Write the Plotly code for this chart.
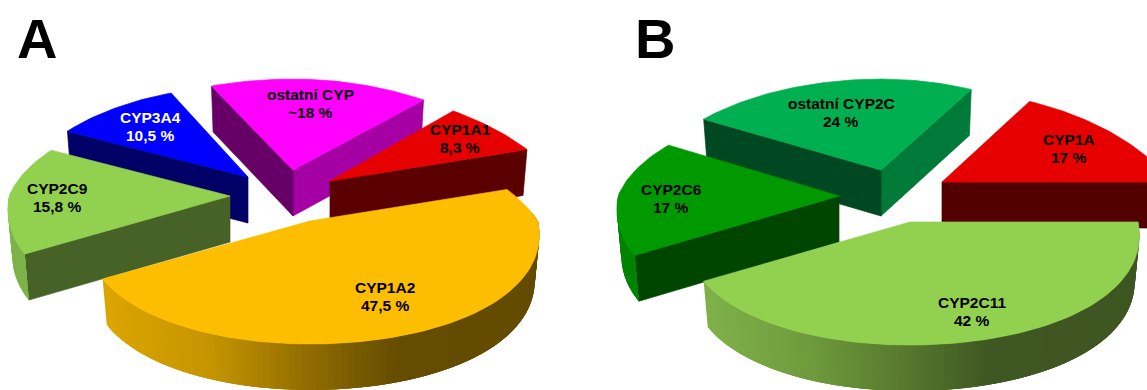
import numpy as np
import plotly.graph_objects as go

# Shares of the P450 isoforms in each pie (per cent)
labels_a = ["CYP1A2", "CYP1A1", "ostatní CYP", "CYP3A4", "CYP2C9"]
values_a = [47.5, 8.3, 18.0, 10.5, 15.8]
value_text_a = ["47,5 %", "8,3 %", "~18 %", "10,5 %", "15,8 %"]

labels_b = ["CYP2C11", "CYP1A", "ostatní CYP2C", "CYP2C6"]
values_b = [42, 17, 24, 17]
value_text_b = ["42 %", "17 %", "24 %", "17 %"]

# Styling per slice: top face, wall on the clockwise edge, wall on the
# counter-clockwise edge, rim gradient stops (offset from the hub in px, colour)
YELLOW_RIM = [(-210, "#DCA600"), (-100, "#C59400"), (30, "#806000"), (90, "#644C00"), (300, "#624B00")]
LIME_RIM = [(-210, "#7FB34A"), (-100, "#6F9A3D"), (-10, "#587A2E"), (80, "#3F5723"), (300, "#3E5522")]
OLIVE_RIM = [(-300, "#7DB348"), (0, "#7DB348")]
STYLE_A = [
    dict(top="#FDBD00", cw="#644C00", ccw="#644C00", rim=YELLOW_RIM),
    dict(top="#E60000", cw="#5A0000", ccw="#5A0000", rim=[(-300, "#5A0000"), (300, "#5A0000")]),
    dict(top="#FF00FF", cw="#A400A4", ccw="#660066", rim=[(-300, "#A400A4"), (300, "#A400A4")]),
    dict(top="#0000FF", cw="#000066", ccw="#000066", rim=[(-300, "#000066"), (300, "#000066")]),
    dict(top="#92D050", cw="#466226", ccw="#466226", rim=OLIVE_RIM),
]
STYLE_B = [
    dict(top="#92D050", cw="#3E5522", ccw="#3E5522", rim=LIME_RIM),
    dict(top="#E60000", cw="#520000", ccw="#520000", rim=[(-300, "#520000"), (300, "#520000")]),
    dict(top="#00B050", cw="#007A38", ccw="#004822", rim=[(-300, "#007A38"), (300, "#007A38")]),
    dict(top="#009900", cw="#004600", ccw="#004600", rim=[(-300, "#008400"), (300, "#008400")]),
]

# Pull-out hub of every slice, in page pixels, and its horizontal stretch
HUBS_A = [(310, 221), (330, 181), (293, 170), (248, 177), (230, 196)]
HUBS_B = [(910, 222), (942, 182), (881, 170), (839, 196)]
STRETCH_A = [1.0, 1.0, 1.06, 1.0, 0.99]
STRETCH_B = [1.0, 1.0, 1.03, 0.99]

# Label anchors (name line; the value line sits below it)
LABEL_POS_A = [(385, 287), (460, 129), (310, 94), (150, 117), (57, 188)]
LABEL_POS_B = [(972, 302), (1069, 139), (841, 103), (671, 189)]
LABEL_COLOR_A = ["#000000", "#000000", "#000000", "#FFFFFF", "#000000"]
LABEL_COLOR_B = ["#000000"] * 4

# Projection of the tilted disc: the near half is drawn larger than the far half
RX_LEFT, RX_RIGHT = 223.0, 228.0
RY_FAR, RY_NEAR = 100.0, 123.0
K_FAR_LEFT, K_FAR_RIGHT, K_NEAR = 0.175, 0.29, 0.11
K_Y_FAR = 0.10
DEPTH = 46.0
LOWER_FACE_SCALE = 0.98
START_A, START_B = 19.0, 0.0
DRAW_ORDER_A = [2, 1, 3, 4, 0]
DRAW_ORDER_B = [2, 1, 3, 0]

fig = go.Figure()


def hex_rgb(c):
    return np.array([int(c[i:i + 2], 16) for i in (1, 3, 5)], dtype=float)


def gradient(stops, offset):
    xs = [s[0] for s in stops]
    rgb = np.array([hex_rgb(s[1]) for s in stops])
    return "rgb({:.0f},{:.0f},{:.0f})".format(*[np.interp(offset, xs, rgb[:, i]) for i in range(3)])


def project(hub, t_deg, stretch):
    t = np.radians(t_deg)
    c, s = np.cos(t), np.sin(t)
    rx = RX_RIGHT if c > 0 else RX_LEFT
    if s >= 0:
        kx = K_FAR_RIGHT if c > 0 else K_FAR_LEFT
        dy = RY_FAR * s / (1.0 + K_Y_FAR * s)
    else:
        kx = K_NEAR
        dy = RY_NEAR * s
    return hub[0] + stretch * rx * c / (1.0 + kx * s), hub[1] - dy


def polygon(xs, ys, color, width=0.7):
    fig.add_trace(go.Scatter(x=xs, y=ys, mode="lines", fill="toself", fillcolor=color,
                             line=dict(color=color, width=width), hoverinfo="skip", showlegend=False))


def lower_x(hub, x):
    # The bottom face of the slab sits further from the viewer
    return hub[0] + (x - hub[0]) * LOWER_FACE_SCALE


def wall(hub, edge, color):
    polygon([hub[0], edge[0], lower_x(hub, edge[0]), hub[0], hub[0]],
            [hub[1], edge[1], edge[1] + DEPTH, hub[1] + DEPTH, hub[1]], color)


def wall_visible(hub, edge, mid):
    # The wall faces the viewer when the slice's arc lies above the edge line
    dx = edge[0] - hub[0]
    if abs(dx) < 1e-6:
        return False
    return hub[1] + (edge[1] - hub[1]) * (mid[0] - hub[0]) / dx > mid[1]


def draw_slice(hub, t_lo, t_hi, style, stretch):
    ts = np.arange(t_lo, t_hi, 1.5).tolist() + [t_hi]
    arc = [project(hub, t, stretch) for t in ts]
    mid = project(hub, (t_lo + t_hi) / 2, stretch)
    if wall_visible(hub, arc[0], mid):
        wall(hub, arc[0], style["cw"])
    if wall_visible(hub, arc[-1], mid):
        wall(hub, arc[-1], style["ccw"])
    # Outer rim: overlapping narrow bands, each painted over the last, so the
    # shading runs across it without seams
    for i in range(len(ts) - 1):
        if np.sin(np.radians((ts[i] + ts[i + 1]) / 2)) < 0.05:
            j = min(i + 3, len(ts) - 1)
            band = [arc[k] for k in range(i, j + 1)]
            xs = [p[0] for p in band]
            ys = [p[1] for p in band]
            low = [lower_x(hub, x) for x in xs]
            polygon(xs + low[::-1] + [xs[0]],
                    ys + [y + DEPTH for y in ys[::-1]] + [ys[0]],
                    gradient(style["rim"], (arc[i][0] + arc[i + 1][0]) / 2 - hub[0]), width=0)
    polygon([hub[0]] + [p[0] for p in arc] + [hub[0]],
            [hub[1]] + [p[1] for p in arc] + [hub[1]], style["top"])


def draw_pie(values, hubs, styles, stretches, start, order):
    shares = np.array(values, dtype=float)
    sweeps = shares / shares.sum() * 360.0
    # The first slice runs clockwise from the start angle, the others counter-clockwise
    spans = [(start - sweeps[0], start)]
    t = start
    for sw in sweeps[1:]:
        spans.append((t, t + sw))
        t += sw
    for i in order:
        draw_slice(hubs[i], spans[i][0], spans[i][1], styles[i], stretches[i])


def draw_labels(names, texts, positions, colors):
    for name, text, (x, y), color in zip(names, texts, positions, colors):
        for line, yy in ((name, y), (text, y + 18.5)):
            fig.add_annotation(x=x, y=yy, text=f"<b>{line}</b>", showarrow=False,
                               xanchor="center", yanchor="middle",
                               font=dict(family="Liberation Sans", size=15.5, color=color))


draw_pie(values_a, HUBS_A, STYLE_A, STRETCH_A, START_A, DRAW_ORDER_A)
draw_pie(values_b, HUBS_B, STYLE_B, STRETCH_B, START_B, DRAW_ORDER_B)
draw_labels(labels_a, value_text_a, LABEL_POS_A, LABEL_COLOR_A)
draw_labels(labels_b, value_text_b, LABEL_POS_B, LABEL_COLOR_B)

for letter, x in (("A", 37), ("B", 655)):
    fig.add_annotation(x=x, y=38, text=f"<b>{letter}</b>", showarrow=False,
                       xanchor="center", yanchor="middle",
                       font=dict(family="Liberation Sans", size=56, color="#000000"))

fig.update_layout(
    width=1147, height=390, margin=dict(l=0, r=0, t=0, b=0),
    paper_bgcolor="#FFFFFF", plot_bgcolor="#FFFFFF", showlegend=False,
    xaxis=dict(range=[0, 1147], visible=False, fixedrange=True),
    yaxis=dict(range=[390, 0], visible=False, fixedrange=True),
)
fig.write_html("out.html", config={"displayModeBar": False})
